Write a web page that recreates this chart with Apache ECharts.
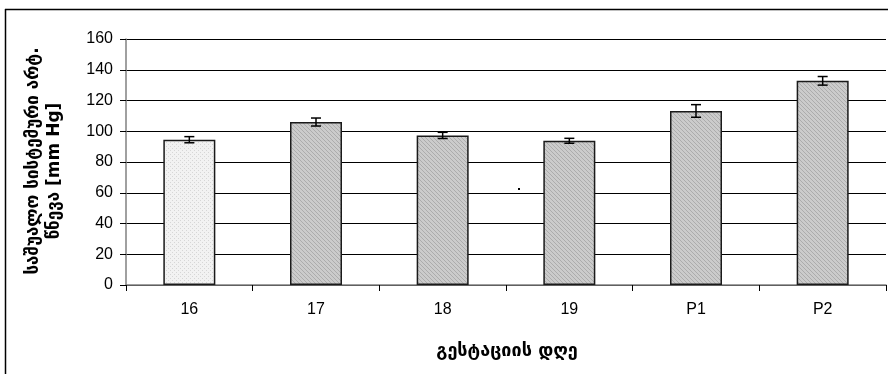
<!DOCTYPE html>
<html>
<head>
<meta charset="utf-8">
<script src="https://cdn.jsdelivr.net/npm/echarts@6/dist/echarts.min.js"></script>
<style>
  html, body { margin: 0; padding: 0; background: #fff; }
  #chart { width: 888px; height: 374px; }
</style>
</head>
<body>
<div id="chart"></div>
<script>
// Gestation day categories
const categories = ['16', '17', '18', '19', 'P1', 'P2'];
// Mean systemic arterial pressure, mm Hg
const meanValues = [94.5, 106.0, 97.3, 93.8, 113.2, 132.8];
// Error (± SEM) for each bar
const errValues = [2.0, 2.6, 2.0, 1.6, 4.1, 2.8];
// Y axis ticks
const yMin = 0, yMax = 160, yStep = 20;

// Small tiled fill textures for the bars
function makePattern(base, dot, cells) {
  const c = document.createElement('canvas');
  c.width = 4; c.height = 4;
  const g = c.getContext('2d');
  g.fillStyle = base;
  g.fillRect(0, 0, 4, 4);
  g.fillStyle = dot;
  cells.forEach(([x, y]) => g.fillRect(x, y, 1, 1));
  return { image: c, repeat: 'repeat' };
}
const lightFill = makePattern('#f2f2f2', '#d6d6d6', [[0, 0], [2, 2]]);
const greyFill = makePattern('#cbcbcb', '#acacac', [[0, 0], [1, 1], [2, 2], [3, 3]]);

const chart = echarts.init(document.getElementById('chart'), null, { renderer: 'canvas' });

const barData = meanValues.map((v, i) => ({
  value: v,
  itemStyle: { color: i === 0 ? lightFill : greyFill }
}));

const errData = meanValues.map((v, i) => [i, v - errValues[i], v + errValues[i]]);

const titleFont = '"DejaVu Sans", sans-serif';

chart.setOption({
  animation: false,
  backgroundColor: '#fff',
  textStyle: { fontFamily: '"Liberation Sans", Arial, sans-serif' },
  grid: { left: 126, right: 2, top: 39, bottom: 89, containLabel: false },
  xAxis: {
    type: 'category',
    data: categories,
    axisLine: { lineStyle: { color: '#808080', width: 1.5 } },
    axisTick: { show: true, length: 6, inside: false, lineStyle: { color: '#000' } },
    axisLabel: { color: '#000', fontSize: 16, margin: 17 },
    splitLine: { show: false }
  },
  yAxis: {
    type: 'value',
    min: yMin, max: yMax, interval: yStep,
    axisLine: { show: true, lineStyle: { color: '#808080', width: 1.5 } },
    axisTick: { show: true, length: 6, lineStyle: { color: '#000' } },
    axisLabel: { color: '#000', fontSize: 16, margin: 13 },
    splitLine: { show: true, lineStyle: { color: '#000', width: 1 } }
  },
  series: [
    {
      type: 'bar',
      data: barData,
      barWidth: 52,
      itemStyle: { borderColor: '#1a1a1a', borderWidth: 1.5 },
      z: 2
    },
    {
      type: 'custom',
      data: errData,
      z: 5,
      renderItem: function (params, api) {
        const x = api.value(0);
        const lo = api.coord([x, api.value(1)]);
        const hi = api.coord([x, api.value(2)]);
        const hw = 5;
        const style = { stroke: '#000', lineWidth: 1.5 };
        return {
          type: 'group',
          children: [
            { type: 'line', shape: { x1: lo[0], y1: lo[1], x2: hi[0], y2: hi[1] }, style },
            { type: 'line', shape: { x1: lo[0] - hw, y1: lo[1], x2: lo[0] + hw, y2: lo[1] }, style },
            { type: 'line', shape: { x1: hi[0] - hw, y1: hi[1], x2: hi[0] + hw, y2: hi[1] }, style }
          ]
        };
      }
    }
  ],
  graphic: [
    // outer frame (top and left edges)
    { type: 'line', shape: { x1: 5, y1: 9.5, x2: 888, y2: 9.5 }, style: { stroke: '#000', lineWidth: 1.5 } },
    { type: 'line', shape: { x1: 5.5, y1: 9, x2: 5.5, y2: 374 }, style: { stroke: '#000', lineWidth: 1.5 } },
    // y axis title, two rotated lines
    {
      type: 'text', x: 34, y: 161, rotation: Math.PI / 2,
      style: {
        text: 'საშუალო სისტემური არტ.',
        font: 'bold 17px ' + titleFont,
        fill: '#000', align: 'center', verticalAlign: 'middle'
      }
    },
    {
      type: 'text', x: 55, y: 171, rotation: Math.PI / 2,
      style: {
        text: 'წნევა [mm Hg]',
        font: 'bold 17px ' + titleFont,
        fill: '#000', align: 'center', verticalAlign: 'middle'
      }
    },
    // x axis title
    {
      type: 'text', x: 507, y: 351,
      style: {
        text: 'გესტაციის დღე',
        font: 'bold 18px ' + titleFont,
        fill: '#000', align: 'center', verticalAlign: 'middle'
      }
    },
    // small stray mark inside plot
    { type: 'rect', shape: { x: 518, y: 188, width: 2, height: 2 }, style: { fill: '#000' } }
  ]
});
</script>
</body>
</html>
